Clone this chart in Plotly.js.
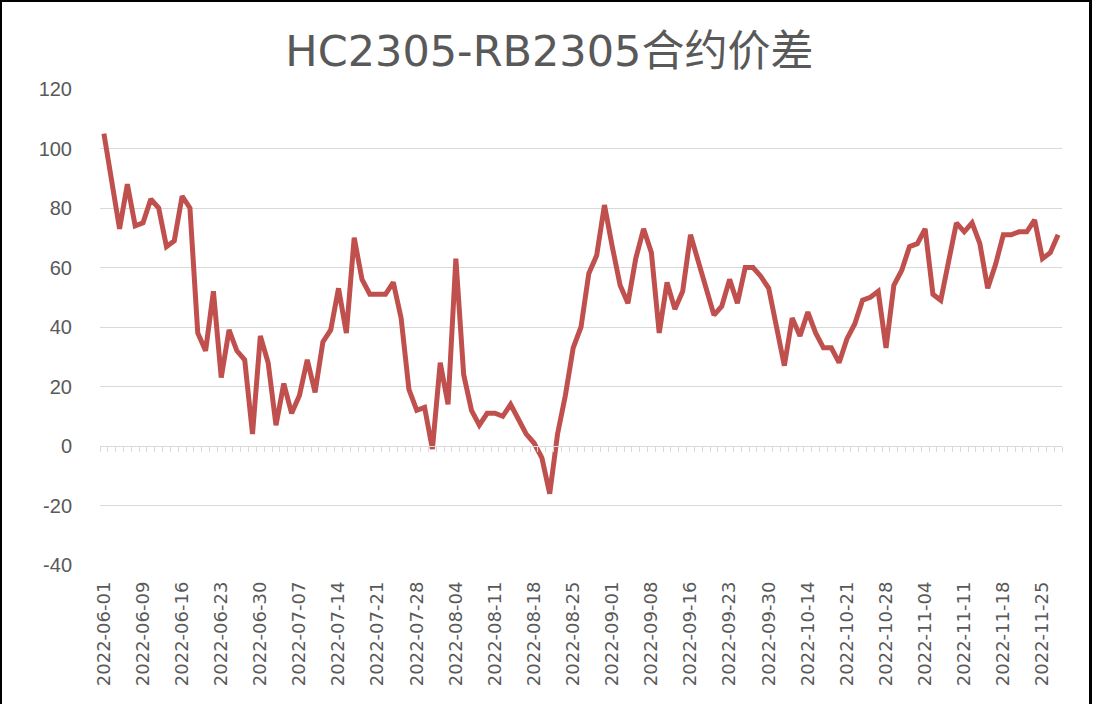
<!DOCTYPE html>
<html>
<head>
<meta charset="utf-8">
<script src="https://cdn.plot.ly/plotly-3.0.1.min.js"></script>
<style>
  html, body { margin: 0; padding: 0; background: #ffffff; overflow: hidden; }
  #chart { position: absolute; left: 0; top: 0; width: 1101px; height: 704px; }
  #frame { position: absolute; left: 0; top: 0; width: 1087px; height: 720px;
           border-left: 2px solid #000; border-top: 2px solid #000; border-right: 3px solid #000;
           pointer-events: none; }
</style>
</head>
<body>
<div id="chart"></div>
<div id="frame"></div>
<script>
const titleText = "HC2305-RB2305合约价差";

const dates = [
  "2022-06-01","2022-06-02","2022-06-06","2022-06-07","2022-06-08","2022-06-09","2022-06-10",
  "2022-06-13","2022-06-14","2022-06-15","2022-06-16","2022-06-17",
  "2022-06-20","2022-06-21","2022-06-22","2022-06-23","2022-06-24",
  "2022-06-27","2022-06-28","2022-06-29","2022-06-30",
  "2022-07-01","2022-07-04","2022-07-05","2022-07-06","2022-07-07","2022-07-08",
  "2022-07-11","2022-07-12","2022-07-13","2022-07-14","2022-07-15",
  "2022-07-18","2022-07-19","2022-07-20","2022-07-21","2022-07-22",
  "2022-07-25","2022-07-26","2022-07-27","2022-07-28","2022-07-29",
  "2022-08-01","2022-08-02","2022-08-03","2022-08-04","2022-08-05",
  "2022-08-08","2022-08-09","2022-08-10","2022-08-11","2022-08-12",
  "2022-08-15","2022-08-16","2022-08-17","2022-08-18","2022-08-19",
  "2022-08-22","2022-08-23","2022-08-24","2022-08-25","2022-08-26",
  "2022-08-29","2022-08-30","2022-08-31",
  "2022-09-01","2022-09-02","2022-09-05","2022-09-06","2022-09-07","2022-09-08","2022-09-09",
  "2022-09-13","2022-09-14","2022-09-15","2022-09-16",
  "2022-09-19","2022-09-20","2022-09-21","2022-09-22","2022-09-23",
  "2022-09-26","2022-09-27","2022-09-28","2022-09-29","2022-09-30",
  "2022-10-10","2022-10-11","2022-10-12","2022-10-13","2022-10-14",
  "2022-10-17","2022-10-18","2022-10-19","2022-10-20","2022-10-21",
  "2022-10-24","2022-10-25","2022-10-26","2022-10-27","2022-10-28",
  "2022-10-31","2022-11-01","2022-11-02","2022-11-03","2022-11-04",
  "2022-11-07","2022-11-08","2022-11-09","2022-11-10","2022-11-11",
  "2022-11-14","2022-11-15","2022-11-16","2022-11-17","2022-11-18",
  "2022-11-21","2022-11-22","2022-11-23","2022-11-24","2022-11-25",
  "2022-11-28","2022-11-29"
];

const spread = [
  105, 89, 73, 88, 74, 75, 83, 80, 67, 69,
  84, 80, 38, 32, 52, 23, 39, 32, 29, 4,
  37, 28, 7, 21, 11, 17, 29, 18, 35, 39,
  53, 38, 70, 56, 51, 51, 51, 55, 43, 19,
  12, 13, -1, 28, 14, 63, 24, 12, 7, 11,
  11, 10, 14, 9, 4, 1, -4, -16, 4, 17,
  33, 40, 58, 64, 81, 67, 54, 48, 63, 73,
  65, 38, 55, 46, 52, 71, 62, 52, 44, 47,
  56, 48, 60, 60, 57, 53, 39, 27, 43, 37,
  45, 38, 33, 33, 28, 36, 41, 49, 50, 52,
  33, 54, 59, 67, 68, 73, 51, 49, 62, 75,
  72, 75, 68, 53, 61, 71, 71, 72, 72, 76,
  63, 65, 71
];

const yTicks = [-40, -20, 0, 20, 40, 60, 80, 100, 120];
const xTickLabels = dates.filter((d, i) => i % 5 === 0);

const gray = "#595959";
const gridColor = "#d9d9d9";

const traces = [
  {
    type: "scatter",
    mode: "lines",
    x: dates,
    y: spread,
    line: { color: "#c0504d", width: 5 },
    showlegend: false,
    hoverinfo: "x+y"
  },
  {
    type: "scatter",
    mode: "lines",
    x: [],
    y: [],
    xaxis: "x2",
    yaxis: "y",
    showlegend: false,
    hoverinfo: "skip"
  }
];

const layout = {
  width: 1101,
  height: 704,
  paper_bgcolor: "#ffffff",
  plot_bgcolor: "#ffffff",
  margin: { l: 100, r: 39, t: 89, b: 139 },
  title: {
    text: titleText,
    x: 0.499,
    xref: "container",
    xanchor: "center",
    y: 0.928,
    yref: "container",
    yanchor: "middle",
    font: { family: "DejaVu Sans, 'Noto Sans CJK SC', sans-serif", size: 43, color: gray }
  },
  xaxis: {
    type: "category",
    categoryorder: "array",
    categoryarray: dates,
    tickmode: "array",
    tickvals: xTickLabels,
    ticktext: xTickLabels,
    tickangle: -90,
    ticks: "",
    ticklabelstandoff: 12,
    tickfont: { family: "DejaVu Sans, sans-serif", size: 18, color: gray },
    showgrid: false,
    showline: false,
    zeroline: false,
    range: [-0.5, dates.length - 0.5]
  },
  xaxis2: {
    overlaying: "x",
    anchor: "free",
    position: 0.25,
    type: "linear",
    range: [-0.5, dates.length - 0.5],
    tick0: -0.5,
    dtick: 1,
    ticks: "outside",
    ticklen: 5,
    tickwidth: 1,
    tickcolor: gridColor,
    showticklabels: false,
    showline: true,
    linecolor: gridColor,
    linewidth: 1,
    showgrid: false,
    zeroline: false
  },
  yaxis: {
    range: [-40, 120],
    tickmode: "array",
    tickvals: yTicks,
    ticktext: yTicks.map(String),
    showgrid: true,
    gridcolor: gridColor,
    gridwidth: 1,
    zeroline: false,
    showline: false,
    ticks: "",
    ticklabelstandoff: 27,
    tickfont: { family: "'Liberation Sans', Arial, sans-serif", size: 20, color: gray }
  },
  showlegend: false
};

Plotly.newPlot("chart", traces, layout, { displayModeBar: false, staticPlot: true });
</script>
</body>
</html>
